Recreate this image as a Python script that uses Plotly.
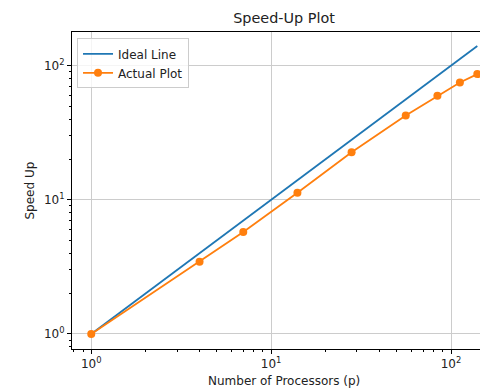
import plotly.graph_objects as go

# Data
ideal_x = [1, 140]
ideal_y = [1, 140]
procs = [1, 4, 7, 14, 28, 56, 84, 112, 140]
speedup = [1, 3.45, 5.75, 11.3, 22.6, 42.6, 59.8, 75.0, 86.5]
major_ticks = [1, 10, 100]
major_labels = ["10<sup>0</sup>", "10<sup>1</sup>", "10<sup>2</sup>"]
x_minor = [0.8, 0.9, 2, 3, 4, 5, 6, 7, 8, 9, 20, 30, 40, 50, 60, 70, 80, 90]
y_minor = [0.8, 0.9, 2, 3, 4, 5, 6, 7, 8, 9, 20, 30, 40, 50, 60, 70, 80, 90]

W, H = 480, 390
L, R, T, B = 72, 0, 32, 41
xr = [-0.107, 2.161]
yr = [-0.112, 2.251]
FONT = "DejaVu Sans"
FS = 12

fig = go.Figure()
fig.add_trace(go.Scatter(x=ideal_x, y=ideal_y, mode="lines", name="Ideal Line",
                         line=dict(color="#1f77b4", width=1.8)))
fig.add_trace(go.Scatter(x=procs, y=speedup, mode="lines+markers", name="Actual Plot",
                         line=dict(color="#ff7f0e", width=1.8),
                         marker=dict(color="#ff7f0e", size=8)))
# invisible trace for minor-tick overlay axes
fig.add_trace(go.Scatter(x=[1], y=[1], xaxis="x2", yaxis="y2", mode="markers",
                         marker=dict(opacity=0), showlegend=False, hoverinfo="skip"))

axis_common = dict(type="log", showline=True, linecolor="black", linewidth=1,
                   ticks="outside", ticklen=4, tickwidth=1, tickcolor="black",
                   showgrid=True, gridcolor="#cccccc", gridwidth=1,
                   zeroline=False, tickfont=dict(family=FONT, size=FS, color="#222"))

fig.update_layout(
    width=W, height=H,
    margin=dict(l=L, r=R, t=T, b=B),
    paper_bgcolor="white", plot_bgcolor="white",
    font=dict(family=FONT, size=FS, color="#222"),
    showlegend=True,
    legend=dict(x=0.0123, y=0.980, xanchor="left", yanchor="top",
                bgcolor="rgba(255,255,255,0.8)", bordercolor="#cccccc", borderwidth=1,
                font=dict(family=FONT, size=FS, color="#222"),
                tracegroupgap=0, itemwidth=30),
    xaxis=dict(range=xr, tickvals=major_ticks, ticktext=major_labels, mirror=True,
               **axis_common),
    yaxis=dict(range=yr, tickvals=major_ticks, ticktext=major_labels, **axis_common),
    xaxis2=dict(type="log", range=xr, overlaying="x", anchor="y2", side="bottom",
                tickvals=x_minor, showticklabels=False, ticks="outside", ticklen=2,
                tickwidth=1, tickcolor="black", showgrid=False, showline=False,
                zeroline=False),
    yaxis2=dict(type="log", range=yr, overlaying="y", anchor="x2", side="left",
                tickvals=y_minor, showticklabels=False, ticks="outside", ticklen=2,
                tickwidth=1, tickcolor="black", showgrid=False, showline=False,
                zeroline=False),
    title=dict(text="Speed-Up Plot", x=284 / W, xref="container", xanchor="center",
               y=1 - 18 / H, yref="container", yanchor="middle",
               font=dict(family=FONT, size=14.4, color="#222")),
)

pw = W - L - R
ph = H - T - B
fig.add_annotation(text="Number of Processors (p)", xref="paper", yref="paper",
                   x=(284 - L) / pw, y=-(381 - (H - B)) / ph,
                   xanchor="center", yanchor="middle", showarrow=False,
                   font=dict(family=FONT, size=FS, color="#222"))
fig.add_annotation(text="Speed Up", xref="paper", yref="paper",
                   x=-(L - 29) / pw, y=0.5, textangle=-90,
                   xanchor="center", yanchor="middle", showarrow=False,
                   font=dict(family=FONT, size=FS, color="#222"))

fig.write_html("out.html", config={"displayModeBar": False},
               post_script="document.body.style.margin='0';document.body.style.overflow='hidden';")
